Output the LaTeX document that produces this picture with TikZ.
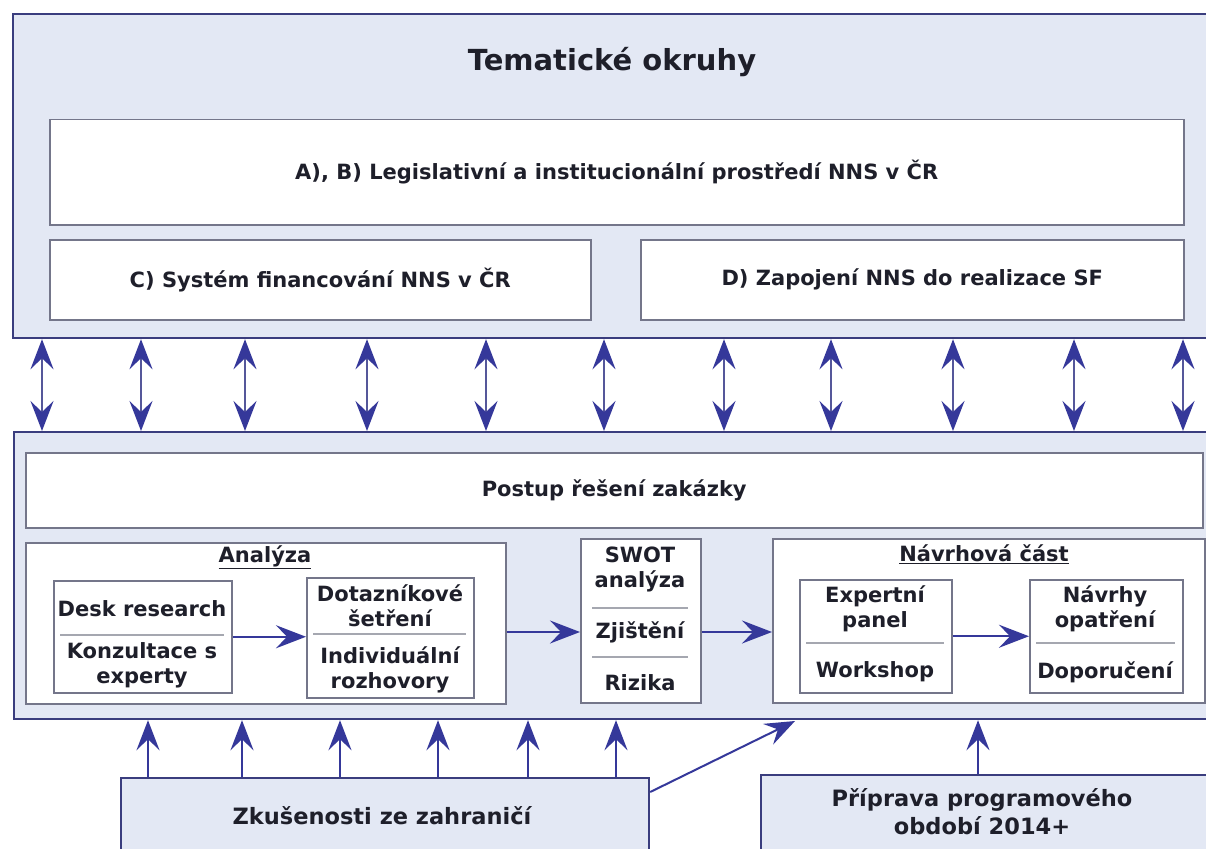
\documentclass[tikz,border=0pt]{standalone}
\usepackage{fontspec}
\setmainfont{DejaVu Sans}
\usetikzlibrary{arrows.meta}
\definecolor{panelfill}{HTML}{E3E8F4}
\definecolor{navy}{HTML}{3A3D7E}
\definecolor{arrowblue}{HTML}{35389A}
\definecolor{shaft}{HTML}{55579A}
\definecolor{boxgray}{HTML}{74768A}
\definecolor{sepgray}{HTML}{A5A7B0}
\definecolor{ink}{HTML}{1E1F2A}
\begin{document}
\begin{tikzpicture}[x=1pt,y=-1pt,
  panel/.style={draw=navy, line width=2.2pt, fill=panelfill, anchor=north west, inner sep=0pt},
  card/.style={draw=boxgray, line width=1.5pt, fill=white, anchor=north west, inner sep=0pt},
  label/.style={text=ink, font=\fontsize{21}{25}\selectfont\bfseries, align=center, inner sep=0pt},
  biglabel/.style={text=ink, font=\fontsize{22.5}{28}\selectfont\bfseries, align=center, inner sep=0pt},
  heading/.style={text=ink, font=\fontsize{29}{33}\selectfont\bfseries, inner sep=0pt},
  sep/.style={draw=sepgray, line width=1.5pt},
  flow/.style={draw=arrowblue, line width=2pt, -{Stealth[length=30pt, width=23pt, inset=11pt]}},
  both/.style={draw=shaft, line width=1.8pt,
    {Stealth[length=30pt, width=23pt, inset=11pt, color=arrowblue]}-{Stealth[length=30pt, width=23pt, inset=11pt, color=arrowblue]}},
]
\useasboundingbox (0,0) rectangle (1206,848);
\clip (0,0) rectangle (1206,848);
\fill[white] (0,0) rectangle (1206,848);

% thematic areas
\node[panel, minimum width=1208pt, minimum height=324pt] (themes) at (12,13) {};
\node[heading] (themestitle) at (612,62) {Tematické okruhy};
\node[card, minimum width=1134pt, minimum height=105pt] (ab) at (49,119) {};
\node[label] (abtext) at (ab.center) {A), B) Legislativní a institucionální prostředí NNS v ČR};
\node[card, minimum width=541pt, minimum height=80pt] (c) at (49,239) {};
\node[label] (ctext) at (c.center) {C) Systém financování NNS v ČR};
\node[card, minimum width=543pt, minimum height=80pt] (d) at (640,239) {};
\node[label] (dtext) at (d.center) {D) Zapojení NNS do realizace SF};

% work procedure
\node[panel, minimum width=1207pt, minimum height=287pt] (work) at (13,431) {};
\node[card, minimum width=1177pt, minimum height=75pt] (postup) at (25,452) {};
\node[label] (postuptext) at (postup.center) {Postup řešení zakázky};

\node[card, minimum width=480pt, minimum height=161pt] (analyza) at (25,542) {};
\node[label] (analyzatitle) at (265,557) {\underline{Analýza}};
\node[card, minimum width=178pt, minimum height=112pt] (desk) at (53,580) {};
\node[label] (deskA) at (142,609) {Desk research};
\node[label] (deskB) at (142,665) {Konzultace s\\experty};
\draw[sep] (60,635) -- (224,635);
\node[card, minimum width=167pt, minimum height=120pt] (dot) at (306,577) {};
\node[label] (dotA) at (390,606) {Dotazníkové\\šetření};
\node[label] (dotB) at (390,670) {Individuální\\rozhovory};
\draw[sep] (313,634) -- (466,634);

\node[card, minimum width=120pt, minimum height=164pt] (swot) at (580,538) {};
\node[label] (swA) at (640,569) {SWOT\\analýza};
\node[label] (swB) at (640,632) {Zjištění};
\node[label] (swC) at (640,683) {Rizika};
\draw[sep] (592,608) -- (688,608);
\draw[sep] (592,657) -- (688,657);

\node[card, minimum width=432pt, minimum height=164pt] (navrh) at (772,538) {};
\node[label] (navrhtitle) at (984,554) {\underline{Návrhová část}};
\node[card, minimum width=152pt, minimum height=113pt] (expert) at (799,579) {};
\node[label] (exA) at (875,609) {Expertní\\panel};
\node[label] (exB) at (875,672) {Workshop};
\draw[sep] (806,643) -- (944,643);
\node[card, minimum width=153pt, minimum height=113pt] (opatr) at (1029,579) {};
\node[label] (naA) at (1105,609) {Návrhy\\opatření};
\node[label] (naB) at (1105,672) {Doporučení};
\draw[sep] (1036,643) -- (1175,643);

\draw[flow] (desk.east) -- (desk.east -| dot.west);
\draw[flow] (analyza.east |- swB) -- (swot.west |- swB);
\draw[flow] (swot.east |- swB) -- (navrh.west |- swB);
\draw[flow] (expert.east) -- (expert.east -| opatr.west);

% links between the two panels
\foreach \x [count=\i] in {42,141,245,367,486,604,724,831,953,1074,1183} {
  \coordinate (link\i) at (\x,0);
  \draw[both] (themes.south -| link\i) -- (work.north -| link\i);
}

% inputs
\node[panel, minimum width=528pt, minimum height=90pt] (abroad) at (120,777) {};
\node[biglabel] (abroadtext) at (382,816) {Zkušenosti ze zahraničí};
\node[panel, minimum width=460pt, minimum height=90pt] (prep) at (760,774) {};
\node[biglabel] (preptext) at (982,812) {Příprava programového\\období 2014+};

\foreach \x [count=\i] in {148,242,340,438,528,616} {
  \coordinate (up\i) at (\x,0);
  \draw[flow] (abroad.north -| up\i) -- (work.south -| up\i);
}
\coordinate (diagend) at (795,721);
\draw[flow] ([yshift=-15pt]abroad.north east) -- (diagend);
\coordinate (prepup) at (978,0);
\draw[flow] (prep.north -| prepup) -- (work.south -| prepup);
\end{tikzpicture}
\end{document}
